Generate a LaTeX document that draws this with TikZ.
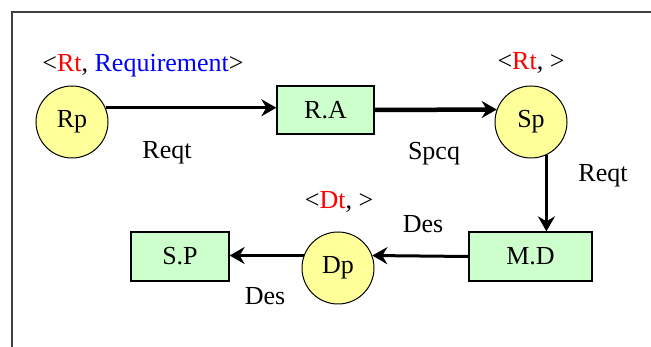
\documentclass[tikz,border=0pt]{standalone}
\usepackage{fontspec}
\setmainfont{Liberation Serif}
\newfontfamily\labelfont{Liberation Serif}
\usetikzlibrary{arrows.meta}
\definecolor{procfill}{HTML}{FFFF99}
\definecolor{boxfill}{HTML}{CCFFCC}
\definecolor{framegray}{HTML}{404040}
\begin{document}
\begin{tikzpicture}[x=1pt,y=-1pt,
  every node/.style={font=\labelfont\fontsize{26}{28}\selectfont},
  proc/.style={circle,draw=black,line width=1pt,fill=procfill,minimum size=72pt,inner sep=0pt},
  stage/.style={rectangle,draw=black,line width=1.3pt,fill=boxfill,inner sep=0pt},
  flow/.style={line width=3pt,-{Stealth[length=15pt,width=17pt,inset=5pt]}},
  lbl/.style={anchor=base,inner sep=0pt}]
\useasboundingbox (0,0) rectangle (651,347);
\fill[white] (0,0) rectangle (651,347);
% outer frame (open to the right and bottom)
\draw[framegray,line width=2pt] (12,360) -- (12,12) -- (670,12);

% processes and stages
\node[proc] (Rp) at (72,122) {Rp};
\node[stage,minimum width=97pt,minimum height=48pt] (RA) at (325.5,110) {R.A};
\node[proc] (Sp) at (531,122) {Sp};
\node[stage,minimum width=123pt,minimum height=49pt] (MD) at (530.5,256.5) {M.D};
\node[proc] (Dp) at (338,268) {Dp};
\node[stage,minimum width=98pt,minimum height=49pt] (SP) at (180,256.5) {S.P};

% tuples above the processes
\node[lbl] (tRp) at (143,72) {<\textcolor{red}{Rt}, \textcolor{blue}{Requirement}>};
\node[lbl] (tSp) at (531,70) {<\textcolor{red}{Rt}, >};
\node[lbl] (tDp) at (339,209) {<\textcolor{red}{Dt}, >};

% flows
\draw[flow] (Rp.23) -- (Rp.23 -| RA.west);
\draw[flow,line width=4.5pt] (RA.east) -- (Sp.160);
\draw[flow] (Sp.-65) -- (Sp.-65 |- MD.north);
\draw[flow] (MD.west) -- (Dp.20);
\draw[flow] (Dp.160) -- (Dp.160 -| SP.east);

% flow labels
\node[lbl] (l1) at (167,159) {Reqt};
\node[lbl] (l2) at (434,160) {Spcq};
\node[lbl] (l3) at (603,182) {Reqt};
\node[lbl] (l4) at (423,233) {Des};
\node[lbl] (l5) at (265,305) {Des};
\end{tikzpicture}
\end{document}
